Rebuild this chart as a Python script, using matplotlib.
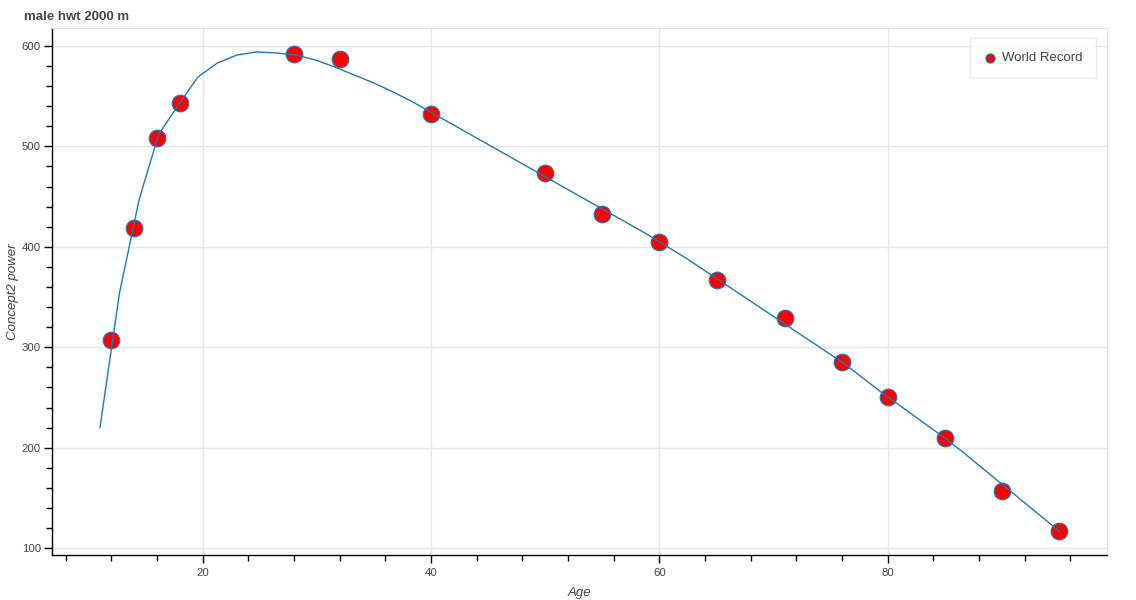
import numpy as np
import matplotlib
matplotlib.use("Agg")
import matplotlib.pyplot as plt
from matplotlib.ticker import MultipleLocator

# world record points (age, power)
record_age = [12, 14, 16, 18, 28, 32, 40, 50, 55, 60, 65, 71, 76, 80, 85, 90, 95]
record_power = [307, 419, 508, 543, 592, 587, 532, 473, 433, 405, 367, 329, 285, 250, 210, 157, 117]

# fitted curve
fit_age = [11.00, 12.71, 14.43, 16.14, 17.86, 19.57, 21.29, 23.00, 24.71, 26.43,
           28.14, 29.86, 31.57, 33.29, 35.00, 36.71, 38.43, 40.14, 41.86, 43.57,
           45.29, 47.00, 48.71, 50.43, 52.14, 53.86, 55.57, 57.29, 59.00, 60.71,
           62.43, 64.14, 65.86, 67.57, 69.29, 71.00, 72.71, 74.43, 76.14, 77.86,
           79.57, 81.29, 83.00, 84.71, 86.43, 88.14, 89.86, 91.57, 93.29, 95.00]
fit_power = [220, 354, 447, 512, 541, 569, 583, 591, 594, 593,
             591, 586, 579, 571, 563, 554, 544, 533, 522, 511,
             500, 489, 478, 467, 456, 445, 434, 423, 412, 400,
             388, 375, 362, 349, 336, 323, 310, 297, 284, 269,
             254, 240, 226, 212, 197, 181, 165, 149, 133, 117]

plt.rcParams["font.family"] = ["Liberation Sans", "DejaVu Sans"]
txt = "#444444"
grid_col = "#e5e5e5"

fig = plt.figure(figsize=(11.36, 6.0), dpi=100)
ax = fig.add_axes([52 / 1136, 1 - 555 / 600, (1107 - 52) / 1136, (555 - 28) / 600])

ax.scatter(record_age, record_power, s=12 ** 2, c="#ff0000",
           edgecolors="#1f77b4", linewidths=0.8, zorder=3, label="World Record")
ax.plot(fit_age, fit_power, color="#1f77b4", lw=1.0, zorder=4)

ax.set_xlim(6.8, 99.2)
ax.set_ylim(93.15, 617.85)

ax.xaxis.set_major_locator(MultipleLocator(20))
ax.xaxis.set_minor_locator(MultipleLocator(4))
ax.yaxis.set_major_locator(MultipleLocator(100))
ax.yaxis.set_minor_locator(MultipleLocator(20))

ax.grid(True, which="major", color=grid_col, lw=1)
ax.set_axisbelow(True)

for side in ["top", "right"]:
    ax.spines[side].set_color(grid_col)
for side in ["left", "bottom"]:
    ax.spines[side].set_color("black")
    ax.spines[side].set_linewidth(1)

ax.tick_params(which="major", direction="out", length=6, width=1, color="black",
               labelsize=8.2, labelcolor=txt, pad=2)
ax.tick_params(axis="x", which="major", pad=3.5)
ax.tick_params(which="minor", direction="out", length=4, width=1, color="black")

ax.set_xlabel("Age", fontsize=9.5, style="italic", color=txt, labelpad=6)
ax.set_ylabel("Concept2 power", fontsize=9.5, style="italic", color=txt, labelpad=2)
ax.set_title("male hwt 2000 m", fontsize=9.5, fontweight="bold", color=txt,
             loc="left", x=-0.027, pad=6)

leg = ax.legend(loc="upper right", fontsize=9.5, frameon=True, fancybox=False,
                markerscale=0.55, borderpad=1.05, handlelength=0.9, handletextpad=0.45,
                borderaxespad=0, bbox_to_anchor=(0.9896, 0.981), labelcolor=txt)
leg.get_frame().set_edgecolor(grid_col)
leg.get_frame().set_linewidth(1)

fig.savefig("out.png", dpi=100)
